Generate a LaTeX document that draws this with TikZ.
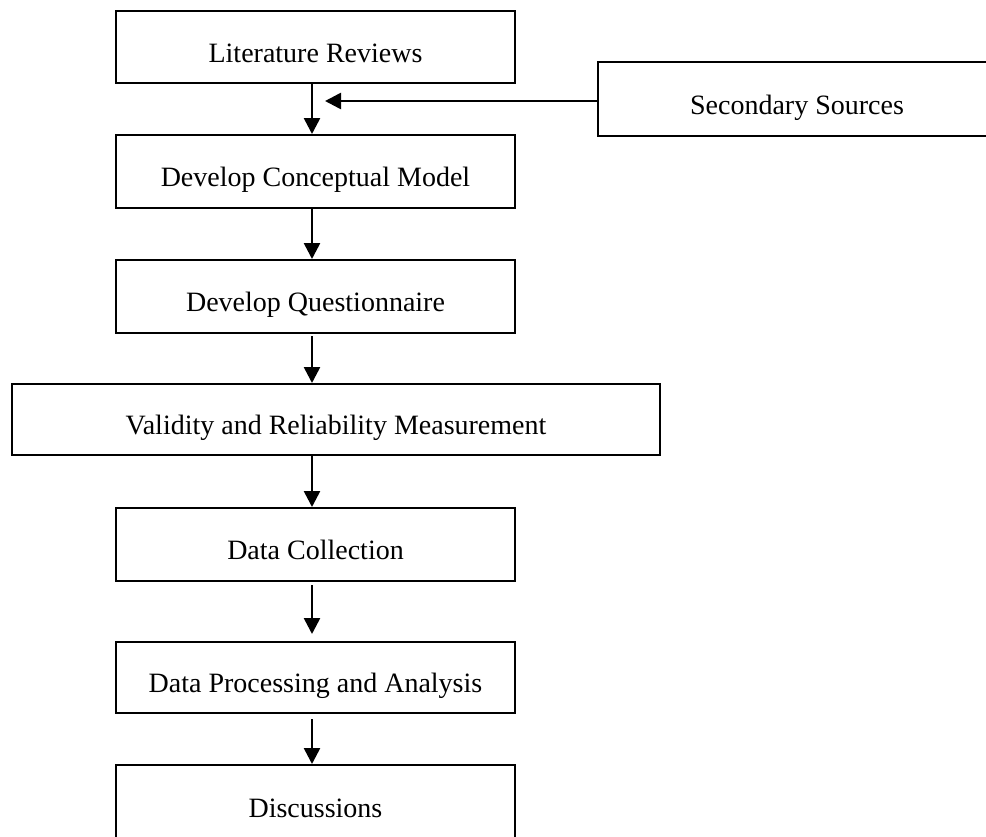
\documentclass[tikz,border=0pt]{standalone}
\usepackage{fontspec}
\setmainfont{Liberation Serif}
\usetikzlibrary{arrows.meta}
\begin{document}
\begin{tikzpicture}[x=0.5pt,y=-0.5pt,
  box/.style={draw=black,line width=1pt,minimum width=199.5pt,inner sep=0pt,
    font=\fontsize{14}{16}\selectfont,text height=15pt,text depth=0pt},
  arr/.style={line width=1.3pt,-{Triangle[width=8pt,length=8pt]}}]
\clip (0,0) rectangle (986,836);
\fill[white] (0,0) rectangle (986,836);
\node[box,minimum height=36pt] (lr) at (315.5,47) {Literature Reviews};
\node[box,minimum height=37pt,minimum width=199pt] (ss) at (797,99) {Secondary Sources};
\node[box,minimum height=36.5pt] (dcm) at (315.5,171.5) {Develop Conceptual Model};
\node[box,minimum height=36.5pt] (dq) at (315.5,296.5) {Develop Questionnaire};
\node[box,minimum height=35.5pt,minimum width=324pt] (vrm) at (336,419.5) {Validity and Reliability Measurement};
\node[box,minimum height=36.5pt] (dc) at (315.5,544.5) {Data Collection};
\node[box,minimum height=35.5pt] (dpa) at (315.5,677.5) {Data Processing and Analysis};
\node[box,minimum height=37.5pt] (disc) at (315.5,802.5) {Discussions};
\coordinate (ssin) at (325,101);
\draw[arr] ([xshift=-1.75pt]lr.south) -- ([xshift=-1.75pt]dcm.north);
\draw[arr] ([yshift=-1pt]ss.west) -- (ssin);
\draw[arr] ([xshift=-1.75pt]dcm.south) -- ([xshift=-1.75pt]dq.north);
\draw[arr,shorten <=1pt] ([xshift=-1.75pt]dq.south) -- ([xshift=-1.75pt]dq.south |- vrm.north);
\draw[arr] ([xshift=-1.75pt]dc.north |- vrm.south) -- ([xshift=-1.75pt]dc.north);
\draw[arr,shorten <=1.5pt,shorten >=3.5pt] ([xshift=-1.75pt]dc.south) -- ([xshift=-1.75pt]dpa.north);
\draw[arr,shorten <=2.5pt] ([xshift=-1.75pt]dpa.south) -- ([xshift=-1.75pt]disc.north);
\end{tikzpicture}
\end{document}
